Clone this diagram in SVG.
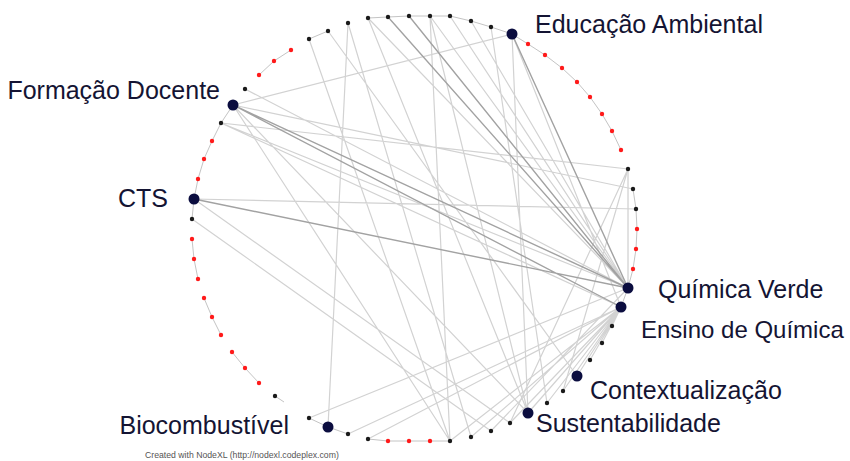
<svg xmlns="http://www.w3.org/2000/svg" width="850" height="461" viewBox="0 0 850 461">
<style>
.e{stroke:#d2d2d2;stroke-width:1.2;fill:none}
.d{stroke:#a2a2a2;stroke-width:1.4;fill:none}
.a{stroke:#c4c4c4;stroke-width:1;fill:none}
.k{fill:#1a1a1a}
.r{fill:#ff1a1a}
.n{fill:#0b0d3f}
.t{font-family:"Liberation Sans",Arial,sans-serif;font-size:25px;fill:#141433}
.s{font-size:24px}
.f{font-family:"Liberation Sans",Arial,sans-serif;font-size:8.7px;fill:#555}
</style>
<rect width="850" height="461" fill="#fff"/>
<g id="connectors">
<path class="a" d="M309 39L328 31M259 75L274 61L291 50M368 18L388 17L409 16L430 16L450 16L471 21L491 27L512 34L528 44L545 55L562 68L577 82L590 97L602 114L612 131L621 150M233 105L221 123L212 141L204 159L198 179L194 199L192 219M192 239L194 259L198 279M204 298L212 317L221 335M232 352L245 368L259 383M275 396L284 402M309 418L328 427L348 434M368 439L388 441L409 441L430 441L450 441M628 169L628 288M633 189L636 209M636 209L637 229L636 249L633 269L628 288L621 307"/>
<path class="e" d="M621 307L612 326M621 307L602 343M621 307L590 360M621 307L577 376M621 307L563 391M621 307L547 403M621 307L528 413M621 307L510 423M628 288L491 431M621 307L471 437M621 307L450 441M621 307L368 439M621 307L348 434M628 288L309 418"/>
<path class="e" d="M245 89L628 288M221 123L628 288M221 123L621 307M194 199L636 209M233 105L633 189M221 123L628 169M233 105L512 34M368 18L628 288M430 16L628 288M450 16L628 288M471 21L628 288M512 34L621 307M512 34L528 413M368 18L528 413M430 16L528 413M430 16L450 441M309 39L450 441M348 23L328 427M348 23L471 437M328 31L577 376M192 219L491 431M194 199L510 423M233 105L450 441M233 105L528 413M628 169L510 423M628 169L563 391M491 27L547 403"/>
<path class="d" d="M233 105L628 288M233 105L621 307M194 199L628 288M388 17L628 288M409 16L628 288M512 34L628 288"/>
</g>
<g id="nodes-small">
<circle class="k" cx="388" cy="17" r="2.2"/><circle class="k" cx="409" cy="16" r="2.2"/><circle class="k" cx="430" cy="16" r="2.2"/><circle class="k" cx="450" cy="16" r="2.2"/><circle class="k" cx="471" cy="21" r="2.2"/><circle class="k" cx="491" cy="27" r="2.2"/>
<circle class="r" cx="528" cy="44" r="2.2"/><circle class="r" cx="545" cy="55" r="2.2"/><circle class="r" cx="562" cy="68" r="2.2"/><circle class="r" cx="577" cy="82" r="2.2"/><circle class="r" cx="590" cy="97" r="2.2"/><circle class="r" cx="602" cy="114" r="2.2"/><circle class="r" cx="612" cy="131" r="2.2"/><circle class="r" cx="621" cy="150" r="2.2"/>
<circle class="k" cx="628" cy="169" r="2.2"/><circle class="k" cx="633" cy="189" r="2.2"/><circle class="k" cx="636" cy="209" r="2.2"/>
<circle class="r" cx="637" cy="229" r="2.2"/><circle class="r" cx="636" cy="249" r="2.2"/><circle class="r" cx="633" cy="269" r="2.2"/>
<circle class="k" cx="612" cy="326" r="2.2"/><circle class="k" cx="602" cy="343" r="2.2"/><circle class="k" cx="590" cy="360" r="2.2"/><circle class="k" cx="563" cy="391" r="2.2"/><circle class="k" cx="547" cy="403" r="2.2"/><circle class="k" cx="510" cy="423" r="2.2"/><circle class="k" cx="491" cy="431" r="2.2"/><circle class="k" cx="471" cy="437" r="2.2"/><circle class="k" cx="450" cy="441" r="2.2"/>
<circle class="r" cx="430" cy="441" r="2.2"/><circle class="r" cx="409" cy="441" r="2.2"/><circle class="r" cx="388" cy="441" r="2.2"/>
<circle class="k" cx="368" cy="439" r="2.2"/><circle class="k" cx="348" cy="434" r="2.2"/><circle class="k" cx="309" cy="418" r="2.2"/><circle class="k" cx="275" cy="396" r="2.2"/>
<circle class="r" cx="259" cy="383" r="2.2"/><circle class="r" cx="245" cy="368" r="2.2"/><circle class="r" cx="232" cy="352" r="2.2"/><circle class="r" cx="221" cy="335" r="2.2"/><circle class="r" cx="212" cy="317" r="2.2"/><circle class="r" cx="204" cy="298" r="2.2"/><circle class="r" cx="198" cy="279" r="2.2"/><circle class="r" cx="194" cy="259" r="2.2"/><circle class="r" cx="192" cy="239" r="2.2"/>
<circle class="k" cx="192" cy="219" r="2.2"/>
<circle class="r" cx="198" cy="179" r="2.2"/><circle class="r" cx="204" cy="159" r="2.2"/><circle class="r" cx="212" cy="141" r="2.2"/>
<circle class="k" cx="221" cy="123" r="2.2"/><circle class="k" cx="245" cy="89" r="2.2"/>
<circle class="r" cx="259" cy="75" r="2.2"/><circle class="r" cx="274" cy="61" r="2.2"/><circle class="r" cx="291" cy="50" r="2.2"/>
<circle class="k" cx="309" cy="39" r="2.2"/><circle class="k" cx="328" cy="31" r="2.2"/><circle class="k" cx="348" cy="23" r="2.2"/><circle class="k" cx="368" cy="18" r="2.2"/>
</g>
<g id="educacao-ambiental"><circle class="n" cx="512" cy="34" r="5.5"/><text class="t" x="535" y="33">Educação Ambiental</text></g>
<g id="formacao-docente"><circle class="n" cx="233" cy="105" r="5.5"/><text class="t" x="220" y="99" text-anchor="end">Formação Docente</text></g>
<g id="cts"><circle class="n" cx="194" cy="199" r="5.5"/><text class="t" x="168" y="207" text-anchor="end">CTS</text></g>
<g id="quimica-verde"><circle class="n" cx="628" cy="288" r="5.5"/><text class="t" x="658" y="298">Química Verde</text></g>
<g id="ensino-de-quimica"><circle class="n" cx="621" cy="307" r="5.5"/><text class="t s" x="641" y="338">Ensino de Química</text></g>
<g id="contextualizacao"><circle class="n" cx="577" cy="376" r="5.5"/><text class="t" x="590" y="399">Contextualização</text></g>
<g id="sustentabilidade"><circle class="n" cx="528" cy="413" r="5.5"/><text class="t" x="536" y="432">Sustentabilidade</text></g>
<g id="biocombustivel"><circle class="n" cx="328" cy="427" r="5.5"/><text class="t" x="289" y="434" text-anchor="end">Biocombustível</text></g>
<text class="f" x="145" y="458">Created with NodeXL (http://nodexl.codeplex.com)</text>
</svg>
